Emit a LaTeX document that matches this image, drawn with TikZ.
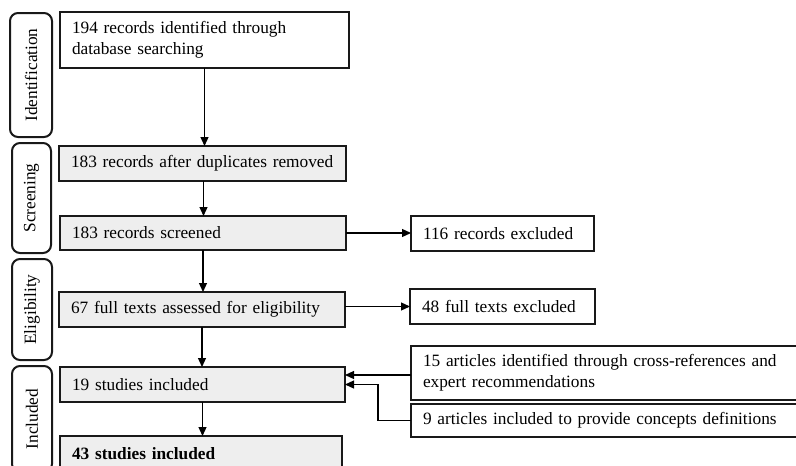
\documentclass[tikz,border=0pt]{standalone}
\usepackage{fontspec}
\setmainfont{Liberation Serif}
\usetikzlibrary{arrows.meta}
\definecolor{boxgray}{RGB}{238,238,238}
\tikzset{
  box/.style={draw=black!90, line width=2pt, fill=boxgray, rectangle, outer sep=0pt,
    inner xsep=12pt, inner ysep=0pt, align=left, anchor=north west,
    font=\fontsize{17.3}{21}\selectfont},
  wbox/.style={box, fill=white},
  stage/.style={draw=black!90, line width=2pt, rounded corners=8pt, rectangle, outer sep=0pt,
    inner sep=0pt, rotate=90, align=center, font=\fontsize{17.3}{21}\selectfont},
  arr/.style={line width=1.2pt, -{Triangle[length=9pt,width=8pt]}}
}
\begin{document}
\begin{tikzpicture}[x=1pt,y=-1pt]
\useasboundingbox (0,0) rectangle (796,466);
\clip (0,0) rectangle (796,466);
% stage labels
\node[stage, minimum width=124pt, minimum height=42pt] (s1) at (31,75) {Identification};
\node[stage, minimum width=110pt, minimum height=39pt] (s2) at (31.5,198) {Screening};
\node[stage, minimum width=101pt, minimum height=40pt] (s3) at (32,309.5) {Eligibility};
\node[stage, minimum width=106pt, minimum height=40pt] (s4) at (32,419) {Included};
% main column
\node[wbox, text width=265pt, minimum height=56pt] (b1) at (60,12) {194 records identified through\\database searching};
\node[box, text width=263pt, minimum height=35pt] (b2) at (59,146) {183 records after duplicates removed};
\node[box, text width=262pt, minimum height=34pt] (b3) at (60,216) {183 records screened};
\node[box, text width=262pt, minimum height=35pt] (b4) at (59,292) {67 full texts assessed for eligibility};
\node[box, text width=261pt, minimum height=35pt] (b5) at (60,367) {19 studies included};
\node[box, text width=258pt, minimum height=36pt, font=\fontsize{17.3}{21}\selectfont\bfseries] (b6) at (60,436) {43 studies included};
% right column
\node[wbox, text width=159pt, minimum height=35pt] (r1) at (411,216) {116 records excluded};
\node[wbox, text width=161pt, minimum height=35pt] (r2) at (410,289) {48 full texts excluded};
\node[wbox, text width=366pt, minimum height=54pt] (r3) at (411,346) {15 articles identified through cross-references and\\expert recommendations};
\node[wbox, text width=366pt, minimum height=33pt] (r4) at (411,404) {9 articles included to provide concepts definitions};
% connectors
\draw[arr] (b1.south) -- (b1.south |- b2.north);
\draw[arr] ([xshift=1pt]b2.south) -- ([xshift=1pt]b2.south |- b3.north);
\draw[arr] (b3.south) -- (b3.south |- b4.north);
\draw[arr] (b4.south) -- (b4.south |- b5.north);
\draw[arr] (b5.south) -- (b5.south |- b6.north);
\draw[arr] (b3.east) -- (b3.east -| r1.west);
\draw[arr] (b4.east |- r2.west) -- (r2.west);
\draw[arr] ([yshift=-2pt]r3.west) -- ([yshift=-2pt]b5.east |- r3.west);
\draw[arr] (r4.west) -- ++(-33,0) |- (b5.east);
\end{tikzpicture}
\end{document}
